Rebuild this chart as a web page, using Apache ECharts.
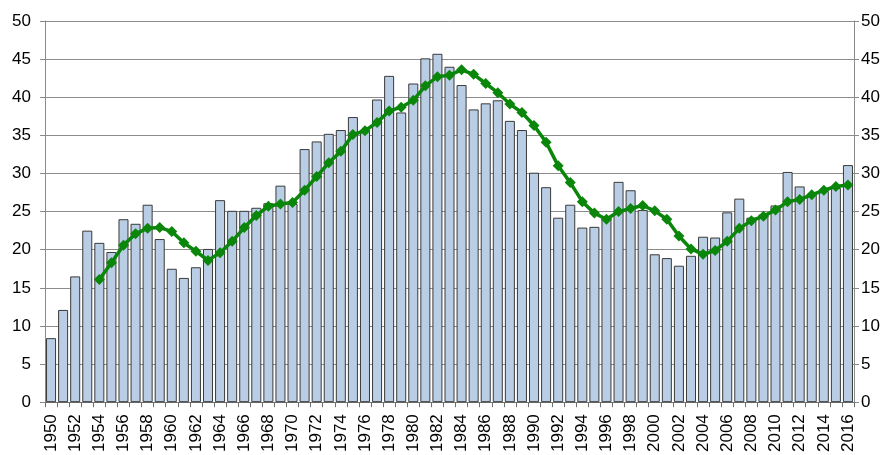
<!DOCTYPE html>
<html>
<head>
<meta charset="utf-8">
<script src="https://cdn.jsdelivr.net/npm/echarts@6/dist/echarts.min.js"></script>
<style>
html,body{margin:0;padding:0;background:#fff;}
#chart{width:891px;height:455px;}
</style>
</head>
<body>
<div id="chart"></div>
<script>
var years = [];
for (var y = 1950; y <= 2016; y++) years.push(String(y));

var barValues = [
  8.4, 12.1, 16.5, 22.5, 20.9, 19.7, 24.0, 23.4, 25.9, 21.4,
  17.5, 16.3, 17.7, 20.1, 26.5, 25.1, 25.1, 25.5, 26.1, 28.4,
  26.0, 33.2, 34.2, 35.2, 35.7, 37.4, 35.6, 39.7, 42.8, 38.0,
  41.8, 45.1, 45.7, 44.0, 41.6, 38.4, 39.2, 39.6, 36.9, 35.7,
  30.1, 28.2, 24.2, 25.9, 22.9, 23.0, 24.2, 28.9, 27.8, 25.2,
  19.4, 18.9, 17.9, 19.2, 21.7, 21.6, 24.9, 26.7, 24.2, 24.6,
  25.8, 30.2, 28.3, 27.2, 27.7, 28.1, 31.1
];

var lineValues = [
  null, null, null, null, 16.1, 18.3, 20.6, 22.1, 22.8, 22.9,
  22.4, 20.9, 19.8, 18.6, 19.6, 21.1, 22.9, 24.5, 25.7, 26.0,
  26.2, 27.8, 29.6, 31.4, 32.9, 35.1, 35.6, 36.7, 38.2, 38.7,
  39.6, 41.5, 42.7, 42.9, 43.6, 43.0, 41.8, 40.6, 39.1, 38.0,
  36.3, 34.1, 31.0, 28.8, 26.3, 24.8, 24.0, 25.0, 25.4, 25.8,
  25.1, 24.0, 21.8, 20.1, 19.4, 19.9, 21.1, 22.8, 23.8, 24.4,
  25.2, 26.3, 26.6, 27.2, 27.8, 28.3, 28.5
];

var yTicks = [0, 5, 10, 15, 20, 25, 30, 35, 40, 45, 50];

var font = 'Liberation Sans, Arial, sans-serif';
var chart = echarts.init(document.getElementById('chart'));
var yAxisCommon = {
  type: 'value',
  min: yTicks[0],
  max: yTicks[yTicks.length - 1],
  interval: 5,
  axisLine: { show: true, lineStyle: { color: '#8a8a8a', width: 1 } },
  axisTick: { show: true, length: 5, lineStyle: { color: '#8a8a8a' } },
  splitLine: { lineStyle: { color: '#8c8c8c', width: 1 } },
  axisLabel: { color: '#000', fontSize: 17, fontFamily: font }
};
chart.setOption({
  animation: false,
  backgroundColor: '#fff',
  grid: { left: 45, right: 37, top: 21, bottom: 50, containLabel: false },
  xAxis: {
    type: 'category',
    data: years,
    boundaryGap: true,
    axisLine: { lineStyle: { color: '#6e6e6e', width: 1 } },
    axisTick: { show: true, interval: 0, length: 5, lineStyle: { color: '#6e6e6e' } },
    axisLabel: { interval: 1, rotate: 90, margin: 12, color: '#000', fontSize: 17, fontFamily: font }
  },
  yAxis: [
    Object.assign({}, yAxisCommon, { position: 'left', axisLabel: Object.assign({}, yAxisCommon.axisLabel, { margin: 14 }) }),
    Object.assign({}, yAxisCommon, { position: 'right', splitLine: { show: false }, axisLabel: Object.assign({}, yAxisCommon.axisLabel, { margin: 7 }) })
  ],
  series: [
    {
      type: 'bar',
      data: barValues,
      yAxisIndex: 0,
      barCategoryGap: '17%',
      itemStyle: { color: '#b9cde5', borderColor: '#3a3a3a', borderWidth: 1 }
    },
    {
      type: 'line',
      data: lineValues,
      yAxisIndex: 1,
      connectNulls: false,
      showAllSymbol: true,
      symbol: 'diamond',
      symbolSize: 11,
      lineStyle: { color: '#0a860a', width: 3.5 },
      itemStyle: { color: '#0a860a' },
      z: 5
    }
  ]
});
</script>
</body>
</html>
